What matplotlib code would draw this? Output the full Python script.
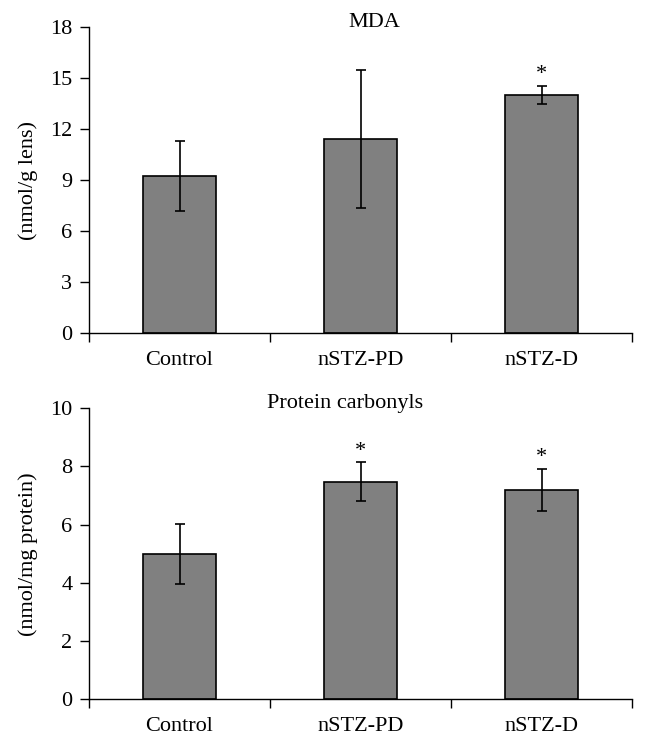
import numpy as np
import matplotlib.pyplot as plt

groups = ['Control', 'nSTZ-PD', 'nSTZ-D']
mda = [9.25, 11.4, 14.0]
mda_err = [2.05, 4.05, 0.52]
mda_sig = [False, False, True]
pc = [5.0, 7.48, 7.19]
pc_err = [1.03, 0.66, 0.72]
pc_sig = [False, True, True]

plt.rcParams['font.family'] = ['Liberation Serif', 'DejaVu Serif']
plt.rcParams['font.size'] = 16

fig = plt.figure(figsize=(6.46, 7.46), dpi=100)
ax1 = fig.add_axes([0.1378, 0.5536, 0.8406, 0.4102])
ax2 = fig.add_axes([0.1378, 0.0626, 0.8406, 0.3901])


def panel(ax, vals, errs, sig, ymax, step, title, title_x, title_y, ylabel, star_gap):
    x = np.arange(len(groups))
    ax.bar(x, vals, width=0.4, color='#808080', edgecolor='black', linewidth=1.2)
    ax.errorbar(x, vals, yerr=errs, fmt='none', ecolor='black', elinewidth=1.2,
                capsize=3.3, capthick=1.2)
    for i in range(len(groups)):
        if sig[i]:
            ax.text(x[i], vals[i] + errs[i] + star_gap, '*', ha='center', va='bottom',
                    fontsize=16)
    ax.set_xlim(-0.5, 2.5)
    ax.set_ylim(0, ymax)
    ax.set_yticks(np.arange(0, ymax + 0.01, step))
    ax.set_xticks([-0.5, 0.5, 1.5, 2.5])
    ax.set_xticklabels([])
    ax.set_xticks(x, minor=True)
    ax.set_xticklabels(groups, minor=True)
    ax.tick_params(axis='x', which='minor', length=0, pad=13)
    ax.tick_params(axis='both', which='major', direction='out', length=6.5, width=1.0, pad=5.5)
    for s in ['top', 'right']:
        ax.spines[s].set_visible(False)
    ax.spines['left'].set_linewidth(1.0)
    ax.spines['bottom'].set_linewidth(1.0)
    ax.set_ylabel(ylabel, labelpad=9)
    ax.text(title_x, title_y, title, transform=ax.transAxes, ha='center', va='center')


panel(ax1, mda, mda_err, mda_sig, 18, 3, 'MDA', 0.525, 1.016, '(nmol/g lens)', 0.1)
panel(ax2, pc, pc_err, pc_sig, 10, 2, 'Protein carbonyls', 0.471, 1.017, '(nmol/mg protein)', 0.06)

fig.savefig('out.png', dpi=100)
